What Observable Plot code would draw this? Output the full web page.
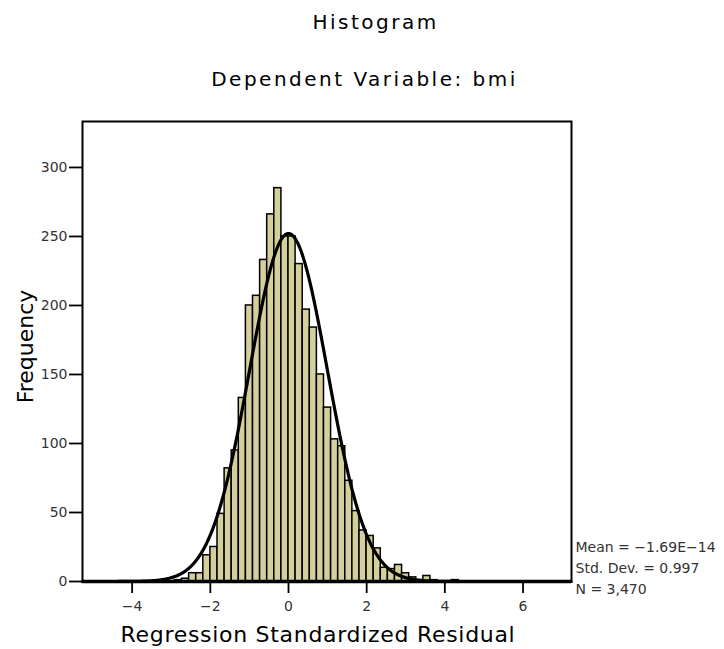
<!DOCTYPE html>
<html><head><meta charset="utf-8">
<script src="https://cdn.jsdelivr.net/npm/d3@7"></script>
<script src="https://cdn.jsdelivr.net/npm/@observablehq/plot@0.6"></script>
<style>
body{margin:0;background:#fff;}
#chart svg{display:block;}
svg [aria-label^="x-axis"] line, svg [aria-label^="x-axis"] path,
svg [aria-label^="y-axis"] line, svg [aria-label^="y-axis"] path {stroke-width:1.8px;stroke:#000;}
svg [aria-label^="x-axis"] text, svg [aria-label^="y-axis"] text {fill:#333;}
</style></head><body><div id="chart"></div>
<script>
const titleLines = ["Histogram", "Dependent Variable: bmi"];
const xLabel = "Regression Standardized Residual";
const yLabel = "Frequency";
const statsLines = ["Mean = \u22121.69E\u221214", "Std. Dev. = 0.997", "N = 3,470"];
const xTicks = [-4, -2, 0, 2, 4, 6];
const yTicks = [0, 50, 100, 150, 200, 250, 300];
const binWidth = 0.1816;
const binIndex = [-16,-15,-14,-13,-12,-11,-10,-9,-8,-7,-6,-5,-4,-3,-2,-1,0,1,2,3,4,5,6,7,8,9,10,11,12,13,14,15,16,17,18,19,20,23];
const counts   = [1,2,6,6,19,25,49,82,95,133,200,207,233,266,285,250,250,230,197,184,150,126,103,98,73,51,37,33,24,10,9,12,6,3,1,4,1,1];
const mean = -1.69e-14, sd = 0.997, n = 3470;
const xDomain = [-5.27, 7.24];
const yDomain = [0, 333.3];

const bars = binIndex.map((k, i) => ({x1: k * binWidth, x2: (k + 1) * binWidth, count: counts[i]}));
const xs = d3.range(xDomain[0], xDomain[1] + 0.001, 0.02);
const curve = xs.map(x => ({x, y: n * binWidth / (sd * Math.sqrt(2 * Math.PI)) * Math.exp(-((x - mean) ** 2) / (2 * sd * sd))}));

const plot = Plot.plot({
  width: 724, height: 649,
  marginLeft: 82, marginRight: 153, marginTop: 121, marginBottom: 68,
  style: {fontFamily: "DejaVu Sans", fontSize: "14px", color: "#000", background: "#fff"},
  x: {domain: xDomain, ticks: xTicks, tickSize: 12, tickPadding: 8, label: null},
  y: {domain: yDomain, ticks: yTicks, tickSize: 13, tickPadding: 2, label: null},
  marks: [
    Plot.rectY(bars, {x1: "x1", x2: "x2", y1: 0, y2: "count", fill: "#d5cf9c", stroke: "#000", strokeWidth: 1.5}),
    Plot.line(curve, {x: "x", y: "y", stroke: "#000", strokeWidth: 3.2}),
    Plot.frame({stroke: "#000", strokeWidth: 2}),
    Plot.ruleY([0], {stroke: "#000", strokeWidth: 3.5}),
    Plot.text([titleLines[0]], {frameAnchor: "top-left", dx: 293, dy: -93, lineAnchor: "bottom", textAnchor: "middle", fontSize: 20, fill: "#000", ariaDescription: "title"}),
    Plot.text([titleLines[1]], {frameAnchor: "top-left", dx: 282, dy: -36, lineAnchor: "bottom", textAnchor: "middle", fontSize: 20, fill: "#000", ariaDescription: "title"}),
    Plot.text([yLabel], {frameAnchor: "left", rotate: -90, dx: -50, dy: -5, lineAnchor: "bottom", textAnchor: "middle", fontSize: 22, fill: "#000"}),
    Plot.text([xLabel], {frameAnchor: "bottom", dx: -9, dy: 60.7, lineAnchor: "bottom", textAnchor: "middle", fontSize: 22, fill: "#000", ariaDescription: "xlabel"}),
    Plot.text([statsLines.join("\n")], {frameAnchor: "bottom-right", dx: 4, dy: 12, lineAnchor: "bottom", textAnchor: "start", lineHeight: 1.48, fontSize: 14, fill: "#333"})
  ]
});
d3.select(plot).selectAll('g[aria-description="title"] text').style("letter-spacing", "2.5px");
d3.select(plot).selectAll('g[aria-description="xlabel"] text').style("letter-spacing", "0.7px");
document.getElementById("chart").appendChild(plot);
</script></body></html>
